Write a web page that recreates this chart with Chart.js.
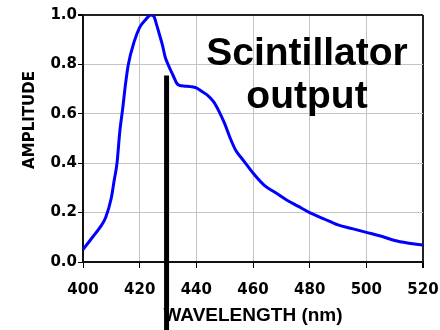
<!DOCTYPE html>
<html>
<head>
<meta charset="utf-8">
<script src="https://cdn.jsdelivr.net/npm/chart.js@4.4.1/dist/chart.umd.min.js"></script>
<style>
html,body{margin:0;padding:0;background:#fff;}
#wrap{position:relative;width:440px;height:330px;}
</style>
</head>
<body>
<div id="wrap"><canvas id="c" width="440" height="330"></canvas></div>
<script>
// Emission spectrum (wavelength in nm, normalized amplitude)
const wavelengths = [400,402,404,406,408,410,411,412,413,414,415,416,418,420,422,424,425,426,427,428,429,430,431,432,433,434,436,438,440,442,444,446,448,450,452,454,456,458,460,464,468,472,476,480,485,490,495,500,505,510,515,520];
const amplitude   = [0.05,0.08,0.11,0.14,0.18,0.26,0.33,0.40,0.53,0.62,0.72,0.80,0.89,0.95,0.98,1.0,0.995,0.96,0.92,0.88,0.83,0.80,0.775,0.75,0.725,0.715,0.712,0.71,0.705,0.69,0.675,0.65,0.61,0.56,0.50,0.45,0.42,0.39,0.36,0.31,0.28,0.25,0.225,0.20,0.175,0.15,0.135,0.12,0.105,0.087,0.076,0.068];
// Vertical marker line
const markerX = [429.5, 429.5];
const markerY = [0.755, -0.4];
// Axis ticks
const xTicks = [400,420,440,460,480,500,520];
const yTicks = [0.0,0.2,0.4,0.6,0.8,1.0];
const xTitle = 'WAVELENGTH (nm)';
const yTitle = 'AMPLITUDE';
const annotationLines = ['Scintillator','output'];

const spectrum = wavelengths.map((w,i)=>({x:w,y:amplitude[i]}));
const marker = markerX.map((w,i)=>({x:w,y:markerY[i]}));

const textPlugin = {
  id:'texts',
  afterDatasetsDraw(chart){
    const ctx = chart.ctx;
    ctx.save();
    ctx.fillStyle = '#000';
    ctx.font = 'bold 39px "Liberation Sans", Arial, sans-serif';
    ctx.textAlign = 'center';
    ctx.textBaseline = 'alphabetic';
    ctx.fillText(annotationLines[0], 307, 65);
    ctx.fillText(annotationLines[1], 307, 108);
    ctx.restore();
    ctx.save();
    ctx.translate(30, 120);
    ctx.rotate(-Math.PI/2);
    ctx.fillStyle = '#000';
    ctx.font = 'bold 15px "DejaVu Sans", sans-serif';
    ctx.textAlign = 'center';
    ctx.textBaseline = 'middle';
    ctx.fillText(yTitle, 0, 0);
    ctx.restore();
  }
};

const tickFont = {family:'"DejaVu Sans", sans-serif', size:15, weight:'bold'};

new Chart(document.getElementById('c'), {
  type:'line',
  data:{
    datasets:[
      {data:spectrum, borderColor:'#0000ff', borderWidth:3, pointRadius:0, cubicInterpolationMode:'monotone', fill:false},
      {data:marker, borderColor:'#000000', borderWidth:5, pointRadius:0, clip:false, fill:false}
    ]
  },
  options:{
    responsive:false,
    animation:false,
    layout:{padding:{left:0,right:17,top:15,bottom:0}},
    plugins:{legend:{display:false}, tooltip:{enabled:false}},
    scales:{
      x:{
        type:'linear', min:400, max:520,
        afterBuildTicks(s){ s.ticks = xTicks.map(v=>({value:v})); },
        afterFit(s){ s.height = 68; s.paddingLeft = 0; s.paddingRight = 0; },
        ticks:{font:tickFont, color:'#000', padding:13, maxRotation:0, autoSkip:false},
        grid:{color:(c)=> c.tick && c.tick.value===520 ? '#222' : '#c4c4c4', lineWidth:(c)=> c.tick && c.tick.value===520 ? 2 : 1, tickColor:'#000', tickLength:6},
        border:{color:'#111', width:2},
        title:{display:true, text:xTitle, color:'#000', font:{family:'"Liberation Sans", Arial, sans-serif', size:19, weight:'bold'}, padding:{top:0,bottom:3}}
      },
      y:{
        type:'linear', min:0, max:1,
        afterBuildTicks(s){ s.ticks = yTicks.map(v=>({value:v})); },
        afterFit(s){ s.width = 83; s.paddingTop = 0; s.paddingBottom = 0; },
        ticks:{font:tickFont, color:'#000', padding:1, callback:(v)=>Number(v).toFixed(1)},
        grid:{color:(c)=> c.tick && c.tick.value===1 ? '#222' : '#c4c4c4', lineWidth:(c)=> c.tick && c.tick.value===1 ? 2 : 1, tickColor:'#000', tickLength:5},
        border:{color:'#111', width:2}
      }
    }
  },
  plugins:[textPlugin]
});
</script>
</body>
</html>
